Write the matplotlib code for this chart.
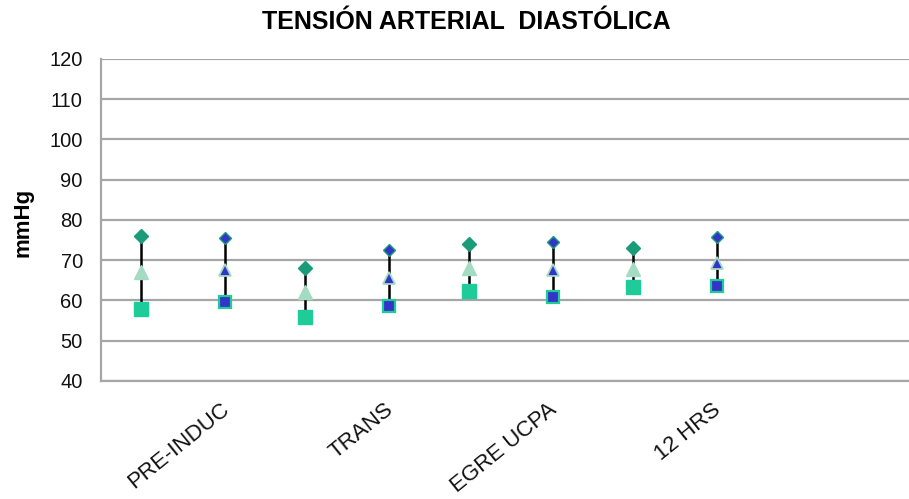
import numpy as np
import matplotlib.pyplot as plt

plt.rcParams['font.family'] = ['Liberation Sans', 'DejaVu Sans']

# four time points, two groups each: high / middle / low diastolic pressure
tiempos = ['PRE-INDUC', 'TRANS', 'EGRE UCPA', '12 HRS']

alto_a = [76.0, 68.0, 74.0, 73.0]
medio_a = [67.0, 62.0, 68.0, 67.8]
bajo_a = [57.8, 55.8, 62.3, 63.4]

alto_b = [75.6, 72.6, 74.6, 75.7]
medio_b = [67.6, 65.5, 67.6, 69.2]
bajo_b = [59.7, 58.7, 60.8, 63.7]

verde_osc = '#1a9c7a'
verde_cla = '#a3dcc2'
verde_med = '#1ecc9a'
azul = '#3434c8'

fig = plt.figure(figsize=(9.09, 4.99), dpi=100)
ax = fig.add_axes([0.111, 0.2365, 0.889, 0.6453])

g = np.arange(len(tiempos))
off = 0.256
xa = g - off
xb = g + off

# high-low bars behind the markers
ax.vlines(xa, bajo_a, alto_a, color='black', lw=1.8, zorder=2)
ax.vlines(xb, bajo_b, alto_b, color='black', lw=1.8, zorder=2)

# group A: green markers
ax.plot(xa, alto_a, 'D', ms=6.8, color=verde_osc, mec=verde_osc, zorder=3)
ax.plot(xa, medio_a, '^', ms=10, color=verde_cla, mec=verde_cla, zorder=3)
ax.plot(xa, bajo_a, 's', ms=10, color=verde_med, mec=verde_med, zorder=3)

# group B: blue fill with green edges
ax.plot(xb, alto_b, 'D', ms=6.4, color=azul, mec=verde_osc, mew=1.0, zorder=3)
ax.plot(xb, medio_b, '^', ms=8, color=azul, mec=verde_cla, mew=1.3, zorder=3)
ax.plot(xb, bajo_b, 's', ms=8.6, color=azul, mec=verde_med, mew=1.6, zorder=3)

ax.set_ylim(40, 120)
ax.set_yticks(np.arange(40, 121, 10))
ax.set_xlim(-0.5, 4.427)
ax.yaxis.grid(True, color='#a6a6a6', lw=1.6, zorder=0)
ax.set_axisbelow(True)

ax.set_xticks(g + off - 0.03)
ax.set_xticklabels(tiempos, rotation=39, ha='right', va='top',
                   rotation_mode='anchor', fontsize=16, color='#111111')
ax.tick_params(axis='x', length=0, pad=13)
ax.tick_params(axis='y', length=0, pad=13, labelsize=14.5, labelcolor='#111111')

for s in ['top', 'right']:
    ax.spines[s].set_visible(False)
for s in ['left', 'bottom']:
    ax.spines[s].set_color('#a6a6a6')
    ax.spines[s].set_linewidth(1.6)

fig.text(0.0253, 0.555, 'mmHg', rotation=90, ha='center', va='center',
         fontsize=16, fontweight='bold')
fig.text(0.513, 0.956, 'TENSIÓN ARTERIAL  DIASTÓLICA', ha='center', va='center',
         fontsize=18, fontweight='bold')

fig.savefig('out.png', dpi=100)
